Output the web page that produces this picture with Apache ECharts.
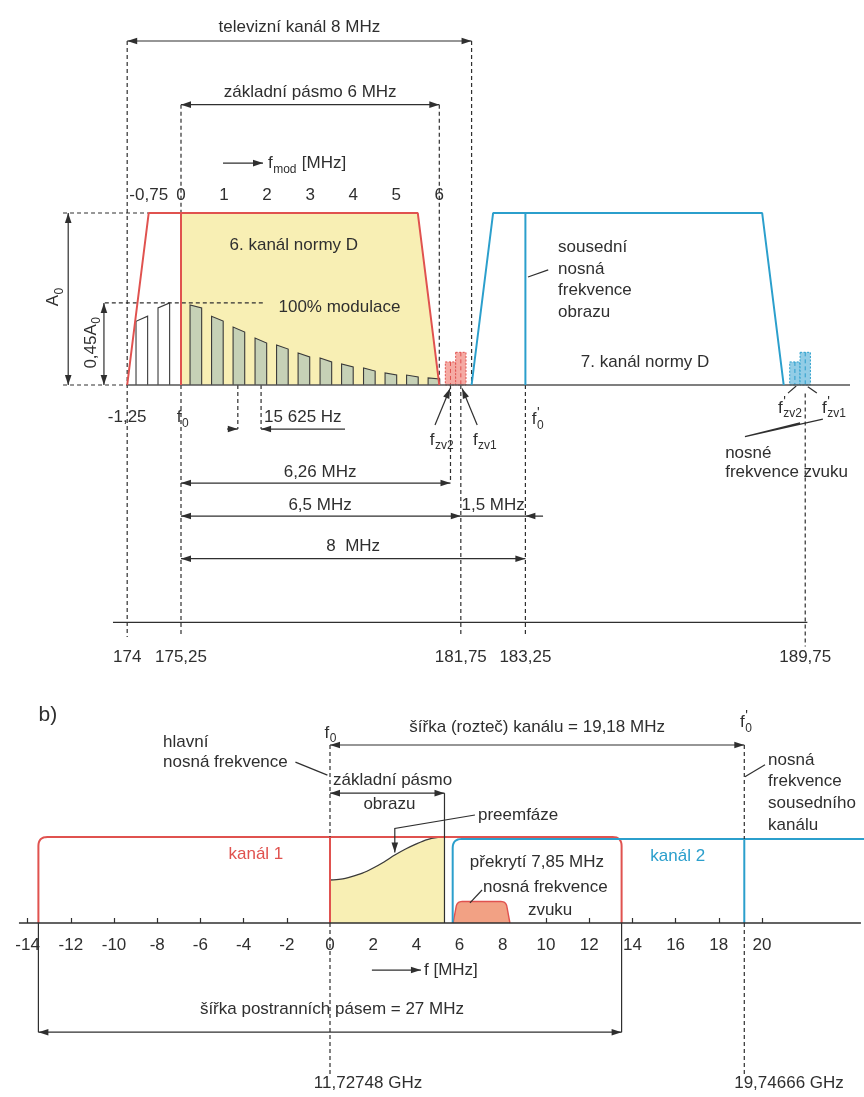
<!DOCTYPE html>
<html><head><meta charset="utf-8">
<script src="https://cdn.jsdelivr.net/npm/echarts@6/dist/echarts.min.js"></script>
<style>html,body{margin:0;padding:0;background:#fff}#c{width:864px;height:1097px}</style>
</head><body><div id="c"></div>
<script>
// ================= DATA =================
// Panel a) – frequencies in MHz relative to vision carrier f0, amplitude relative to A0
const f0Abs = 175.25;                                   // MHz, channel 6 vision carrier
const ch6Envelope = [[-1.25,0],[-0.75,1],[5.5,1],[6,0]];  // red trapezoid
const ch7Envelope = [[6.75,0],[7.25,1],[13.5,1],[14,0]];  // blue trapezoid
const ch7Carrier = 8;
const fmodTicks = [-0.75,0,1,2,3,4,5,6];
const freqTicks = [-1.25,0,6.5,8,14.5];                // 174 … 189,75 MHz
const usbBarStart = [0.21,0.71,1.21,1.72,2.22,2.72,3.23,3.73,4.24,4.74,5.24,5.74];
const usbBarLeft  = [0.465,0.40,0.337,0.273,0.233,0.186,0.157,0.122,0.099,0.07,0.058,0.041];
const usbBarRight = [0.448,0.372,0.308,0.244,0.209,0.163,0.134,0.105,0.081,0.058,0.047,0.035];
const lsbBarStart = [-1.045,-0.534];
const lsbBarLeft  = [0.37,0.448];
const lsbBarRight = [0.40,0.477];
const modLevel = 0.477;
const soundCarriers6 = [6.26,6.5];
const soundCarriers7 = [14.26,14.5];
const soundLevels = [0.134,0.19];

// Panel b) – satellite channel, MHz relative to f0
const bTicks = [-14,-12,-10,-8,-6,-4,-2,0,2,4,6,8,10,12,14,16,18,20];
const channel1 = [-13.5,13.5,1];          // lo, hi, level
const channel2 = [5.68,32.68,0.977];      // lo, hi, level
const channelSpacing = 19.18;
const preX = [0,0.5,1,1.5,2,2.5,3,3.5,4,4.5,5,5.3];
const preY = [0.5,0.51,0.54,0.58,0.64,0.71,0.79,0.86,0.92,0.97,0.995,1];
const soundB = [5.7,8.33,0.25];           // lo, hi, level

// ================= STYLE / LAYOUT =================
const INK='#2f2f2f', RED='#e0524f', BLUE='#2b9fcc', YELLOW='#f8efb4', GREEN='#c6d1b6';
const FONT='"Liberation Sans", Arial, sans-serif';
const FS=17;
const BAR_W=0.27, SND_W=0.24;
const A={x0:181,sx:43.05,y0:385,sy:172,xmin:-4,xmax:15.5,ymin:-1.38,ymax:1};
const B={x0:330,sx:21.6,y0:923,sy:86,xmin:-16,xmax:26,ymin:0,ymax:1};
function gridOf(g){return {left:g.x0+g.xmin*g.sx,width:(g.xmax-g.xmin)*g.sx,top:g.y0-g.ymax*g.sy,height:(g.ymax-g.ymin)*g.sy,containLabel:false,outerBoundsMode:'none'};}
const fmt=v=>String(Math.round(v*100)/100).replace('.',',');

const mctx=document.createElement('canvas').getContext('2d');
function tw(s,size){mctx.font=size+'px '+FONT;return mctx.measureText(s).width;}
function T(p,s,o={}){const size=o.size||FS;const al=o.align||'left';
  return {type:'text',x:p[0],y:p[1],rotation:o.rot||0,style:{text:s,x:0,y:0,fill:o.color||INK,font:size+'px '+FONT,fontSize:size,fontFamily:FONT,textAlign:al,textVerticalAlign:'middle',align:al,verticalAlign:'middle'}};}
function LBL(p,base,sub,sup,after,o={}){const size=o.size||FS,ss=Math.round(size*0.72),sp=Math.round(size*0.85);
  const wb=tw(base,size),wsub=sub?tw(sub,ss):0,wsup=sup?tw(sup,sp):0,wa=after?tw(after,size):0;
  const wmid=Math.max(wsub,wsup),total=wb+wmid+wa;const x0=o.align==='center'?-total/2:0;
  const kids=[T([x0,0],base,{size})];
  if(sup)kids.push(T([x0+wb+0.5,-size*0.36],sup,{size:sp}));
  if(sub)kids.push(T([x0+wb+0.5,size*0.36],sub,{size:ss}));
  if(after)kids.push(T([x0+wb+wmid+1,0],after,{size}));
  return {type:'group',x:p[0],y:p[1],rotation:o.rot||0,children:kids};}
function L(pts,o={}){return {type:'polyline',shape:{points:pts},style:{fill:'none',stroke:o.color||INK,lineWidth:o.w||1.2,lineDash:o.dash?[4,3]:null}};}
function H(tip,from,o={}){const len=o.len||10,hw=o.hw||3.3;const dx=tip[0]-from[0],dy=tip[1]-from[1];const d=Math.hypot(dx,dy)||1;const ux=dx/d,uy=dy/d;const bx=tip[0]-ux*len,by=tip[1]-uy*len;
  return {type:'polygon',shape:{points:[tip,[bx-uy*hw,by+ux*hw],[bx+uy*hw,by-ux*hw]]},style:{fill:o.color||INK,stroke:null}};}
function rounded(pts,r){const out=[pts[0]];for(let i=1;i<pts.length-1;i++){const p=pts[i],a=pts[i-1],b=pts[i+1];
  const da=Math.hypot(p[0]-a[0],p[1]-a[1]),db=Math.hypot(b[0]-p[0],b[1]-p[1]);const ra=Math.min(r,da/2),rb=Math.min(r,db/2);
  const s=[p[0]+(a[0]-p[0])/da*ra,p[1]+(a[1]-p[1])/da*ra],e=[p[0]+(b[0]-p[0])/db*rb,p[1]+(b[1]-p[1])/db*rb];
  for(let k=0;k<=8;k++){const t=k/8;out.push([(1-t)*(1-t)*s[0]+2*(1-t)*t*p[0]+t*t*e[0],(1-t)*(1-t)*s[1]+2*(1-t)*t*p[1]+t*t*e[1]]);}}
  out.push(pts[pts.length-1]);return out;}

function helpers(api){const c=(x,y)=>api.coord([x,y]);const ch=[];
  return {c,ch,
    dash:(x,y1,y2)=>ch.push(L([c(x,y1),c(x,y2)],{dash:true})),
    hdash:(y,x1,x2)=>ch.push(L([c(x1,y),c(x2,y)],{dash:true})),
    dim:(y,x1,x2,hl=true,hr=true)=>{const a=c(x1,y),b=c(x2,y);ch.push(L([a,b]));if(hl)ch.push(H(a,b));if(hr)ch.push(H(b,a));},
    dimV:(x,y1,y2)=>{const a=c(x,y1),b=c(x,y2);ch.push(L([a,b]));ch.push(H(a,b));ch.push(H(b,a));},
    arrow:(p1,p2)=>{const a=c(p1[0],p1[1]),b=c(p2[0],p2[1]);ch.push(L([a,b]));ch.push(H(b,a));},
    line:(pts,o)=>ch.push(L(pts.map(p=>c(p[0],p[1])),o)),
    t:(x,y,s,o)=>ch.push(T(c(x,y),s,o)),
    lbl:(x,y,b,sub,sup,after,o)=>ch.push(LBL(c(x,y),b,sub,sup,after,o))};}

// ---------- panel a annotations ----------
function renderAnnA(params,api){const h=helpers(api),c=h.c;
  h.t(2.75,2.08,'televizní kanál 8 MHz',{align:'center'});
  h.dim(2.0,-1.25,6.75);
  h.t(3.0,1.70,'základní pásmo 6 MHz',{align:'center'});
  h.dim(1.63,0,6);
  h.dash(-1.25,2.0,-1.465);h.dash(6.75,2.0,0);h.dash(0,1.63,1);h.dash(0,0,-1.465);h.dash(6,1.63,0);
  h.arrow([0.976,1.29],[1.905,1.29]);
  h.lbl(2.02,1.29,'f','mod',null,' [MHz]');
  h.hdash(1,-2.74,-0.75);h.hdash(0,-2.74,-1.25);h.hdash(modLevel,-1.77,1.9);
  h.dimV(-2.62,0,1);h.dimV(-1.79,0,modLevel);
  h.lbl(-2.97,0.51,'A','0',null,null,{align:'center',rot:Math.PI/2});
  h.lbl(-2.09,0.244,'0,45A','0',null,null,{align:'center',rot:Math.PI/2});
  h.t(2.62,0.814,'6. kanál normy D',{align:'center'});
  h.t(3.68,0.453,'100% modulace',{align:'center'});
  ['sousední','nosná','frekvence','obrazu'].forEach((s,i)=>h.t(8.76,0.80-i*0.125,s));
  h.line([[8.53,0.669],[8.06,0.628]]);
  h.t(10.78,0.134,'7. kanál normy D',{align:'center'});
  h.t(-1.25,-0.19,'-1,25',{align:'center'});
  h.lbl(-0.1,-0.19,'f','0');
  h.lbl(8.15,-0.2,'f','0','\'');
  h.dash(1.32,0,-0.256);h.dash(1.86,0,-0.256);
  h.arrow([1.07,-0.256],[1.32,-0.256]);h.arrow([3.81,-0.256],[1.86,-0.256]);
  h.t(1.93,-0.186,'15 625 Hz');
  h.lbl(5.78,-0.32,'f','zv2');h.lbl(6.78,-0.32,'f','zv1');
  h.arrow([5.9,-0.233],[6.25,-0.02]);h.arrow([6.88,-0.233],[6.53,-0.02]);
  h.dash(6.26,0,-0.57);h.dash(6.5,0,-1.465);h.dash(8,0,-1.465);h.dash(14.5,-0.05,-1.52);
  h.dim(-0.57,0,6.26);h.t(3.23,-0.506,'6,26 MHz',{align:'center'});
  h.dim(-0.762,0,6.5);h.t(3.23,-0.70,'6,5 MHz',{align:'center'});
  h.line([[6.5,-0.762],[8.41,-0.762]]);h.ch.push(H(c(8,-0.762),c(8.41,-0.762)));
  h.t(7.25,-0.70,'1,5 MHz',{align:'center'});
  h.dim(-1.01,0,8);h.t(4.0,-0.94,'8  MHz',{align:'center'});
  h.lbl(13.87,-0.134,'f','zv2','\'');h.lbl(14.89,-0.134,'f','zv1','\'');
  h.line([[14.1,-0.047],[14.29,-0.006]]);h.line([[14.77,-0.047],[14.56,-0.01]]);
  h.t(12.64,-0.395,'nosné');h.t(12.64,-0.51,'frekvence zvuku');
  h.line([[14.38,-0.22],[13.1,-0.30],[14.91,-0.198]]);
  h.line([[-1.58,A.ymin],[14.55,A.ymin]],{w:1.3});
  h.line([[-1.25,0],[15.54,0]],{w:1.5,color:'#555'});
  return {type:'group',children:h.ch};}

function renderYellowA(params,api){const pts=[[0,0],[0,1]].concat(ch6Envelope.filter(p=>p[0]>0));
  return {type:'polygon',shape:{points:pts.map(p=>api.coord(p))},style:{fill:YELLOW,stroke:null}};}
function barItem(fill){return (params,api)=>{const s=api.value(0),l=api.value(1),r=api.value(2);
  const p=[api.coord([s,0]),api.coord([s,l]),api.coord([s+BAR_W,r]),api.coord([s+BAR_W,0])];
  return {type:'group',children:[{type:'polygon',shape:{points:p},style:{fill,stroke:null}},L(p,{w:1.1,color:'#3a3a3a'})]};};}
function soundItem(fill,stroke){return (params,api)=>{const x=api.value(0),lv=api.value(1);
  const a=api.coord([x-SND_W/2,lv]),b=api.coord([x+SND_W/2,0]);
  return {type:'group',children:[{type:'rect',shape:{x:a[0],y:a[1],width:b[0]-a[0],height:b[1]-a[1]},style:{fill,stroke,lineWidth:1,lineDash:[2,1.5]}},
    L([[(a[0]+b[0])/2,a[1]],[(a[0]+b[0])/2,b[1]]],{color:stroke,w:1,dash:true})]};};}

// ---------- panel b ----------
function envItem(color){return (params,api)=>{const lo=api.value(0),hi=api.value(1),lv=api.value(2);
  const pts=[api.coord([lo,0]),api.coord([lo,lv]),api.coord([hi,lv]),api.coord([hi,0])];
  return L(rounded(pts,9),{color,w:2});};}
function renderPreB(params,api){const curve=preX.map((x,i)=>api.coord([x,preY[i]]));
  const poly=[api.coord([preX[0],0])].concat(curve,[api.coord([preX[preX.length-1],0])]);
  return {type:'group',children:[{type:'polygon',shape:{points:poly},style:{fill:YELLOW,stroke:null}},
    {type:'polyline',shape:{points:curve,smooth:0.3},style:{fill:'none',stroke:'#3a3a3a',lineWidth:1.3}}]};}
function renderSoundB(params,api){const lo=api.value(0),hi=api.value(1),lv=api.value(2);
  const bl=api.coord([lo,0]),br=api.coord([hi,0]),tl=api.coord([lo,lv]),tr=api.coord([hi,lv]);
  const pts=rounded([bl,[tl[0]+4,tl[1]],[tr[0]-4,tr[1]],br],5);
  return {type:'group',children:[{type:'polygon',shape:{points:pts},style:{fill:'#f2a184',stroke:null}},L(pts,{color:RED,w:1.4})]};}
function renderAnnB(params,api){const h=helpers(api),c=h.c;
  h.t(-13.06,2.42,'b)',{align:'center',size:21});
  h.t(-7.73,2.10,'hlavní');h.t(-7.73,1.87,'nosná frekvence');
  h.line([[-1.6,1.87],[-0.12,1.72]]);
  h.lbl(-0.25,2.21,'f','0');
  h.dash(0,2.07,1);h.dash(0,0,-1.77);h.dash(channelSpacing,2.07,channel2[2]);h.dash(channelSpacing,0,-1.77);
  h.dim(2.07,0,channelSpacing);
  h.t(9.59,2.28,'šířka (rozteč) kanálu = 19,18 MHz',{align:'center'});
  h.lbl(18.98,2.33,'f','0','\'');
  h.t(2.9,1.66,'základní pásmo',{align:'center'});h.t(2.75,1.38,'obrazu',{align:'center'});
  h.dim(1.51,0,5.3);h.line([[5.3,1.51],[5.3,0]]);
  h.t(6.85,1.256,'preemfáze');
  h.line([[6.71,1.256],[3.0,1.10],[3.0,0.82]]);h.ch.push(H(c(3.0,0.82),c(3.0,1.10)));
  h.line([[0,0],[0,1]],{color:RED,w:2});
  h.line([[channelSpacing,0],[channelSpacing,channel2[2]]],{color:BLUE,w:2});
  h.t(-3.43,0.80,'kanál 1',{align:'center',color:RED});
  h.t(16.1,0.77,'kanál 2',{align:'center',color:BLUE});
  h.t(9.58,0.71,'překrytí 7,85 MHz',{align:'center'});
  h.t(7.08,0.42,'nosná frekvence');h.t(10.19,0.15,'zvuku',{align:'center'});
  h.line([[7.04,0.384],[6.48,0.233]]);
  ['nosná','frekvence','sousedního','kanálu'].forEach((s,i)=>h.t(20.28,1.895-i*0.252,s));
  h.line([[20.14,1.84],[19.21,1.70]]);
  h.line([[-14.4,0],[24.58,0]],{w:1.4});
  h.arrow([1.94,-0.547],[4.21,-0.547]);h.t(4.35,-0.547,'f [MHz]');
  h.line([[-13.5,0],[-13.5,-1.27]]);h.line([[13.5,0],[13.5,-1.27]]);
  h.dim(-1.27,-13.5,13.5);h.t(0.09,-1.0,'šířka postranních pásem = 27 MHz',{align:'center'});
  h.t(1.76,-1.86,'11,72748 GHz',{align:'center'});h.t(21.25,-1.86,'19,74666 GHz',{align:'center'});
  return {type:'group',children:h.ch};}

const lbl={fontSize:FS,fontFamily:FONT,color:INK};
const hidden={axisLine:{show:false},axisTick:{show:false},splitLine:{show:false}};
const option={
  backgroundColor:'#ffffff',animation:false,
  grid:[gridOf(A),gridOf(B)],
  xAxis:[
    Object.assign({type:'value',gridIndex:0,min:A.xmin,max:A.xmax,position:'bottom',axisLabel:Object.assign({customValues:freqTicks,formatter:v=>fmt(v+f0Abs),margin:26},lbl)},hidden),
    Object.assign({type:'value',gridIndex:0,min:A.xmin,max:A.xmax,position:'top',axisLabel:Object.assign({customValues:fmodTicks,formatter:v=>fmt(v),margin:9},lbl)},hidden),
    {type:'value',gridIndex:1,min:B.xmin,max:B.xmax,interval:2,position:'bottom',axisLine:{show:false},splitLine:{show:false},
     axisTick:{show:true,inside:true,length:5,customValues:bTicks,lineStyle:{color:INK,width:1.2}},
     axisLabel:Object.assign({customValues:bTicks,formatter:v=>String(v),margin:14},lbl)}
  ],
  yAxis:[{type:'value',gridIndex:0,min:A.ymin,max:A.ymax,show:false},{type:'value',gridIndex:1,min:B.ymin,max:B.ymax,show:false}],
  series:[
    {type:'custom',xAxisIndex:0,yAxisIndex:0,z:1,data:[[0,0]],renderItem:renderYellowA,silent:true},
    {type:'custom',xAxisIndex:0,yAxisIndex:0,z:2,data:usbBarStart.map((s,i)=>[s,usbBarLeft[i],usbBarRight[i]]),renderItem:barItem(GREEN),silent:true},
    {type:'custom',xAxisIndex:0,yAxisIndex:0,z:2,data:lsbBarStart.map((s,i)=>[s,lsbBarLeft[i],lsbBarRight[i]]),renderItem:barItem('#ffffff'),silent:true},
    {type:'custom',xAxisIndex:0,yAxisIndex:0,z:2,data:soundCarriers6.map((x,i)=>[x,soundLevels[i]]),renderItem:soundItem('#f5aaa3',RED),silent:true},
    {type:'custom',xAxisIndex:0,yAxisIndex:0,z:2,data:soundCarriers7.map((x,i)=>[x,soundLevels[i]]),renderItem:soundItem('#93cde6',BLUE),silent:true},
    {type:'custom',xAxisIndex:0,yAxisIndex:0,z:4,data:[[0,0]],renderItem:renderAnnA,silent:true},
    {type:'line',xAxisIndex:0,yAxisIndex:0,z:5,data:ch6Envelope,showSymbol:false,clip:false,lineStyle:{color:RED,width:2},silent:true},
    {type:'line',xAxisIndex:0,yAxisIndex:0,z:5,data:[[0,0],[0,1]],showSymbol:false,clip:false,lineStyle:{color:RED,width:2},silent:true},
    {type:'line',xAxisIndex:0,yAxisIndex:0,z:5,data:ch7Envelope,showSymbol:false,clip:false,lineStyle:{color:BLUE,width:2},silent:true},
    {type:'line',xAxisIndex:0,yAxisIndex:0,z:5,data:[[ch7Carrier,0],[ch7Carrier,1]],showSymbol:false,clip:false,lineStyle:{color:BLUE,width:2},silent:true},
    {type:'custom',xAxisIndex:2,yAxisIndex:1,z:1,data:[[0,0]],renderItem:renderPreB,silent:true},
    {type:'custom',xAxisIndex:2,yAxisIndex:1,z:2,data:[soundB],renderItem:renderSoundB,silent:true},
    {type:'custom',xAxisIndex:2,yAxisIndex:1,z:3,data:[channel1],renderItem:envItem(RED),silent:true},
    {type:'custom',xAxisIndex:2,yAxisIndex:1,z:3,data:[channel2],renderItem:envItem(BLUE),silent:true},
    {type:'custom',xAxisIndex:2,yAxisIndex:1,z:4,data:[[0,0]],renderItem:renderAnnB,silent:true}
  ]
};
const chart=echarts.init(document.getElementById('c'),null,{renderer:'canvas',width:864,height:1097});
chart.setOption(option);
</script></body></html>
